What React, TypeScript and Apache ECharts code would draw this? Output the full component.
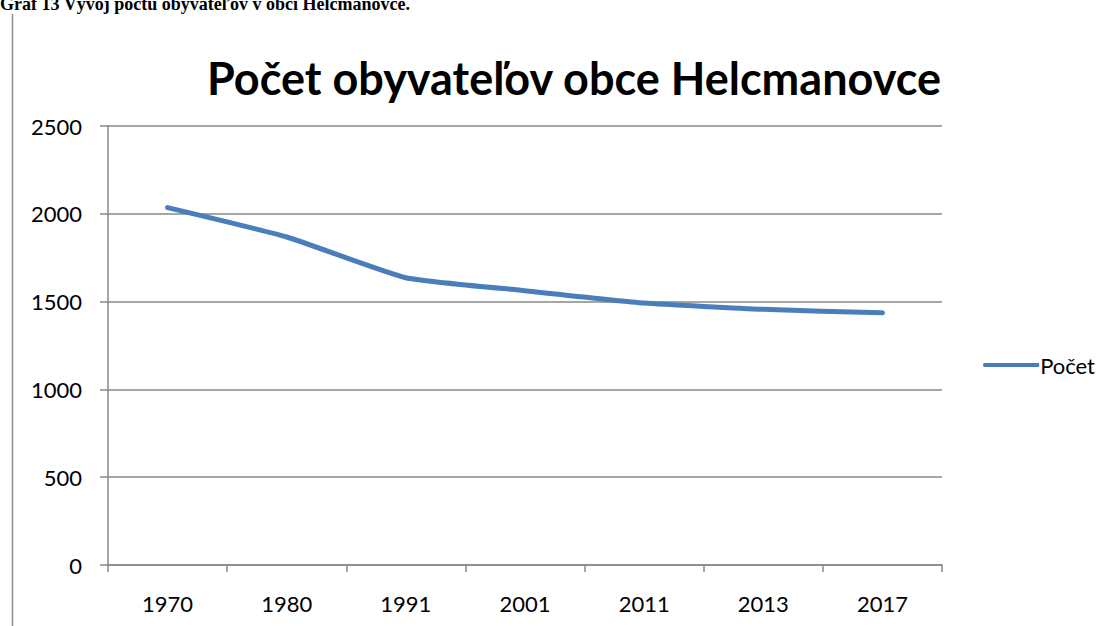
import React, { useEffect, useRef } from "react";
import * as echarts from "echarts";

const years = ["1970", "1980", "1991", "2001", "2011", "2013", "2017"];
const population = [2035, 1868, 1636, 1562, 1492, 1456, 1436];
const yTicks = { min: 0, max: 2500, interval: 500 };
const seriesName = "Počet";
const chartTitle = "Počet obyvateľov obce Helcmanovce";
const caption = "Graf 13 Vývoj počtu obyvateľov v obci Helcmanovce.";

const FONT = "Lato, 'Open Sans', sans-serif";

export default function App() {
  const ref = useRef<HTMLDivElement>(null);
  useEffect(() => {
    const chart = echarts.init(ref.current!, null, { renderer: "svg" });
    chart.setOption({
      animation: false,
      backgroundColor: "#ffffff",
      title: {
        text: chartTitle,
        left: 569,
        textAlign: "center",
        top: 50,
        textStyle: {
          fontFamily: FONT,
          fontWeight: "bold",
          fontSize: 45,
          color: "#000",
        },
      },
      graphic: [
        {
          type: "text",
          left: 0,
          top: -5,
          style: {
            text: caption,
            font: "bold 18px 'Liberation Serif', 'DejaVu Serif', serif",
            fill: "#000",
          },
        },
        {
          type: "line",
          shape: { x1: 12.5, y1: 14, x2: 12.5, y2: 626 },
          style: { stroke: "#8c8c8c", lineWidth: 1.5 },
        },
      ],
      legend: {
        show: true,
        right: 14,
        top: 349,
        orient: "vertical",
        itemWidth: 56,
        itemHeight: 4,
        itemGap: 0,
        textStyle: { fontFamily: FONT, fontSize: 22, color: "#000", padding: [0, 0, 0, -4] },
        data: [{ name: seriesName, icon: "roundRect" }],
      },
      grid: { left: 108, right: 172, top: 126, bottom: 61, containLabel: false },
      xAxis: {
        type: "category",
        data: years,
        boundaryGap: true,
        axisLine: { show: true, lineStyle: { color: "#888", width: 1.5 } },
        axisTick: { show: true, interval: 0, length: 7, inside: false, lineStyle: { color: "#888", width: 1.5 } },
        axisLabel: {
          interval: 0,
          margin: 27,
          fontFamily: FONT,
          fontSize: 22,
          color: "#000",
        },
      },
      yAxis: {
        type: "value",
        min: yTicks.min,
        max: yTicks.max,
        interval: yTicks.interval,
        axisLine: { show: true, lineStyle: { color: "#888", width: 1.5 } },
        axisTick: { show: true, length: 8, inside: false, lineStyle: { color: "#888", width: 1.5 } },
        splitLine: { show: true, lineStyle: { color: "#888", width: 1.5 } },
        axisLabel: {
          margin: 26,
          fontFamily: FONT,
          fontSize: 22,
          color: "#000",
          formatter: (v: number) => String(v),
        },
      },
      series: [
        {
          name: seriesName,
          type: "line",
          data: population,
          symbol: "none",
          smooth: 0.15,
          lineStyle: { color: "#4A7EBB", width: 5, cap: "round", join: "round" },
          itemStyle: { color: "#4A7EBB" },
        },
      ],
    });
    return () => chart.dispose();
  }, []);
  return (
    <div
      ref={ref}
      style={{ position: "absolute", left: 0, top: 0, width: 1114, height: 626 }}
    />
  );
}
